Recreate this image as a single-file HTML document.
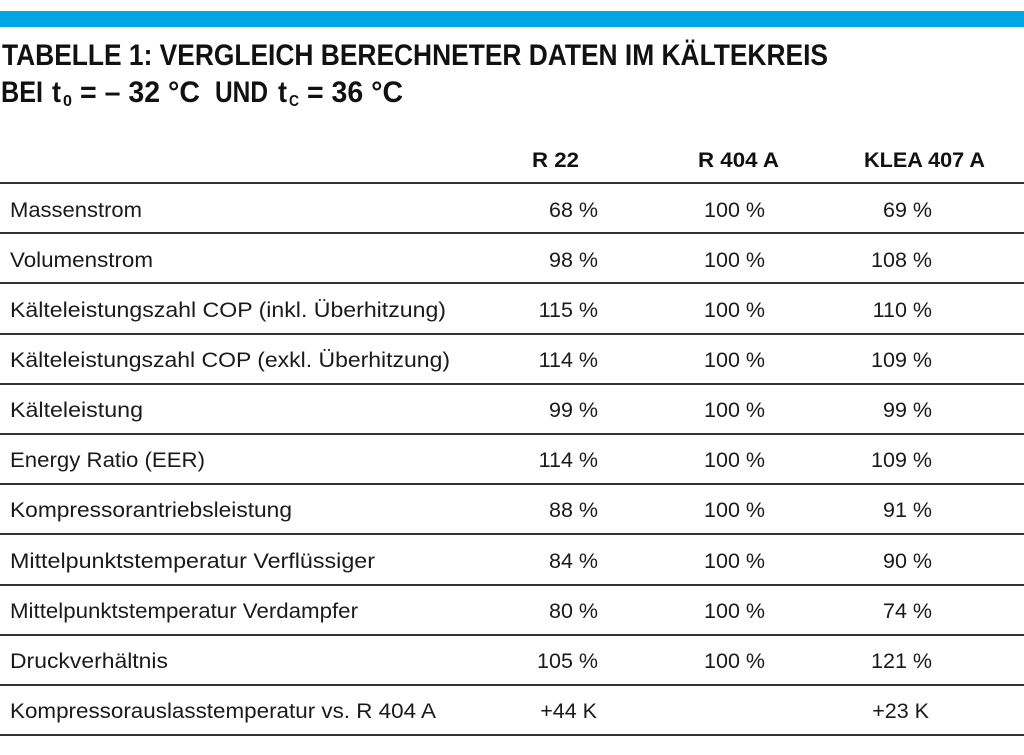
<!DOCTYPE html>
<html><head><meta charset="utf-8"><style>
html,body{margin:0;padding:0;background:#fff;width:1024px;height:755px;overflow:hidden}
svg{display:block}
.t{font-family:"Liberation Sans",sans-serif;font-weight:bold;font-size:30px;fill:#111}
.h{font-family:"Liberation Sans",sans-serif;font-weight:bold;font-size:21px;fill:#111}
.b{font-family:"Liberation Sans",sans-serif;font-size:21.5px;fill:#1a1a1a}
.s{font-family:"Liberation Sans",sans-serif;font-weight:bold;font-size:16px;fill:#111}
</style></head><body>
<svg width="1024" height="755" xmlns="http://www.w3.org/2000/svg">
<rect x="0" y="11" width="1024" height="16" fill="#00a6e6"/>
<text class="t" x="2" y="65" textLength="826" lengthAdjust="spacingAndGlyphs">TABELLE 1: VERGLEICH BERECHNETER DATEN IM KÄLTEKREIS</text>
<text class="t" x="1" y="102" textLength="42" lengthAdjust="spacingAndGlyphs">BEI</text>
<text class="t" x="52" y="102" textLength="9" lengthAdjust="spacingAndGlyphs">t</text>
<text class="s" x="63" y="106" textLength="9" lengthAdjust="spacingAndGlyphs">0</text>
<text class="t" x="80" y="102" textLength="120" lengthAdjust="spacingAndGlyphs">= – 32 °C</text>
<text class="t" x="215" y="102" textLength="53" lengthAdjust="spacingAndGlyphs">UND</text>
<text class="t" x="278" y="102" textLength="9" lengthAdjust="spacingAndGlyphs">t</text>
<text class="s" x="289" y="106" textLength="10" lengthAdjust="spacingAndGlyphs">C</text>
<text class="t" x="307" y="102" textLength="96" lengthAdjust="spacingAndGlyphs">= 36 °C</text>
<text class="h" x="532" y="167" textLength="47" lengthAdjust="spacingAndGlyphs">R 22</text>
<text class="h" x="698" y="167" textLength="81" lengthAdjust="spacingAndGlyphs">R 404 A</text>
<text class="h" x="864" y="167" textLength="121" lengthAdjust="spacingAndGlyphs">KLEA 407 A</text>
<g stroke="#333" stroke-width="2">
<line x1="0" x2="1024" y1="183" y2="183"/><line x1="0" x2="1024" y1="233" y2="233"/>
<line x1="0" x2="1024" y1="283" y2="283"/><line x1="0" x2="1024" y1="334" y2="334"/>
<line x1="0" x2="1024" y1="384" y2="384"/><line x1="0" x2="1024" y1="434" y2="434"/>
<line x1="0" x2="1024" y1="484" y2="484"/><line x1="0" x2="1024" y1="534" y2="534"/>
<line x1="0" x2="1024" y1="585" y2="585"/><line x1="0" x2="1024" y1="635" y2="635"/>
<line x1="0" x2="1024" y1="685" y2="685"/><line x1="0" x2="1024" y1="735" y2="735"/>
</g>
<g>
<text class="b" x="10" y="217" textLength="132" lengthAdjust="spacingAndGlyphs">Massenstrom</text>
<text class="b" x="10" y="267" textLength="143" lengthAdjust="spacingAndGlyphs">Volumenstrom</text>
<text class="b" x="10" y="317" textLength="436" lengthAdjust="spacingAndGlyphs">Kälteleistungszahl COP (inkl. Überhitzung)</text>
<text class="b" x="10" y="367" textLength="440" lengthAdjust="spacingAndGlyphs">Kälteleistungszahl COP (exkl. Überhitzung)</text>
<text class="b" x="10" y="417" textLength="133" lengthAdjust="spacingAndGlyphs">Kälteleistung</text>
<text class="b" x="10" y="467" textLength="195" lengthAdjust="spacingAndGlyphs">Energy Ratio (EER)</text>
<text class="b" x="10" y="517" textLength="282" lengthAdjust="spacingAndGlyphs">Kompressorantriebsleistung</text>
<text class="b" x="10" y="568" textLength="365" lengthAdjust="spacingAndGlyphs">Mittelpunktstemperatur Verflüssiger</text>
<text class="b" x="10" y="618" textLength="348" lengthAdjust="spacingAndGlyphs">Mittelpunktstemperatur Verdampfer</text>
<text class="b" x="10" y="668" textLength="158" lengthAdjust="spacingAndGlyphs">Druckverhältnis</text>
<text class="b" x="10" y="718" textLength="426" lengthAdjust="spacingAndGlyphs">Kompressorauslasstemperatur vs. R 404 A</text>
</g>
<g text-anchor="end">
<text class="b" x="598" y="217">68 %</text><text class="b" x="765" y="217">100 %</text><text class="b" x="932" y="217">69 %</text>
<text class="b" x="598" y="267">98 %</text><text class="b" x="765" y="267">100 %</text><text class="b" x="932" y="267">108 %</text>
<text class="b" x="598" y="317">115 %</text><text class="b" x="765" y="317">100 %</text><text class="b" x="932" y="317">110 %</text>
<text class="b" x="598" y="367">114 %</text><text class="b" x="765" y="367">100 %</text><text class="b" x="932" y="367">109 %</text>
<text class="b" x="598" y="417">99 %</text><text class="b" x="765" y="417">100 %</text><text class="b" x="932" y="417">99 %</text>
<text class="b" x="598" y="467">114 %</text><text class="b" x="765" y="467">100 %</text><text class="b" x="932" y="467">109 %</text>
<text class="b" x="598" y="517">88 %</text><text class="b" x="765" y="517">100 %</text><text class="b" x="932" y="517">91 %</text>
<text class="b" x="598" y="568">84 %</text><text class="b" x="765" y="568">100 %</text><text class="b" x="932" y="568">90 %</text>
<text class="b" x="598" y="618">80 %</text><text class="b" x="765" y="618">100 %</text><text class="b" x="932" y="618">74 %</text>
<text class="b" x="598" y="668">105 %</text><text class="b" x="765" y="668">100 %</text><text class="b" x="932" y="668">121 %</text>
<text class="b" x="597" y="718">+44 K</text><text class="b" x="929" y="718">+23 K</text>
</g>
</svg>
</body></html>
